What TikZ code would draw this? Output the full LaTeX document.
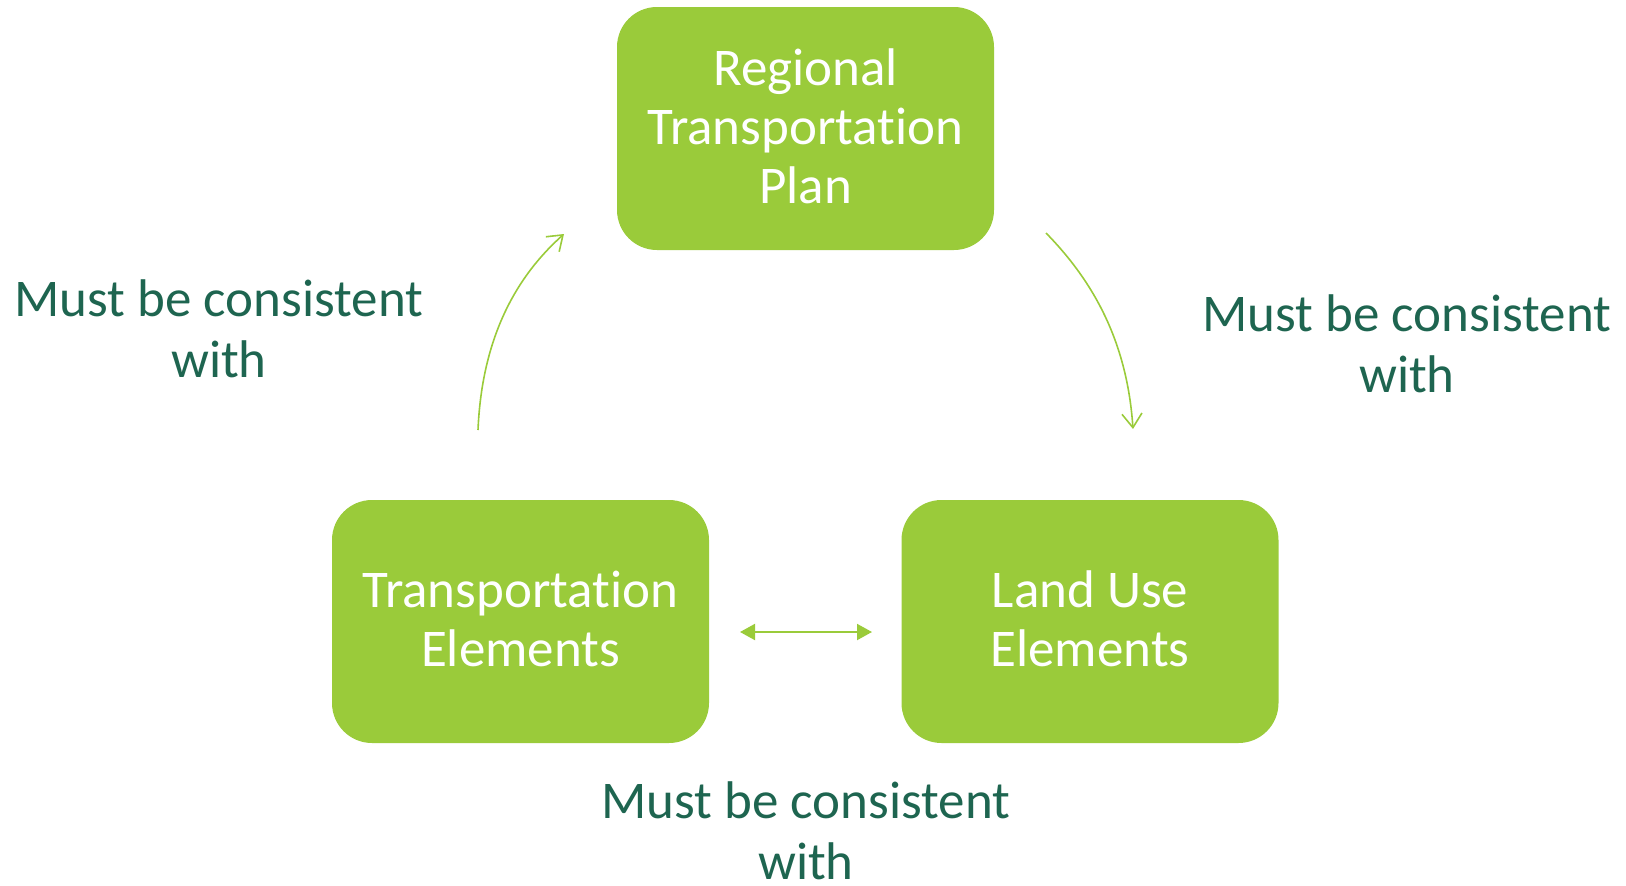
\documentclass[tikz,border=0pt]{standalone}
\usepackage{fontspec}
\setmainfont{Carlito}[Ligatures=NoCommon]
\usetikzlibrary{arrows.meta}
\definecolor{boxgreen}{HTML}{9ACB3A}
\definecolor{txtgreen}{HTML}{1E6550}
\newcommand{\lowpad}{\rule[-5pt]{0pt}{5pt}}
\tikzset{
  greenbox/.style={draw=none, fill=boxgreen, rounded corners=40pt, minimum width=377pt, minimum height=243pt, text=white, align=center, font=\fontsize{53}{59}\selectfont, inner sep=0pt},
  lbl/.style={text=txtgreen, align=center, font=\fontsize{53}{61}\selectfont, inner sep=0pt},
  curvearrow/.style={draw=boxgreen, line width=1.6pt, -{Straight Barb[length=14pt,width=20pt,line width=1.6pt]}},
  dblarrow/.style={draw=boxgreen, line width=2pt, {Triangle[length=15pt,width=16pt]}-{Triangle[length=15pt,width=16pt]}}
}
\begin{document}
\begin{tikzpicture}[x=1pt,y=-1pt]
\useasboundingbox (0,0) rectangle (1626,886);
\node[greenbox] (rtp) at (805.5,128.5) {Regional\\Transportation\\Plan\lowpad};
\node[greenbox] (te) at (520.5,621.5) {Transportation\\Elements\lowpad};
\node[greenbox] (lu) at (1090,621.5) {Land Use\\Elements\lowpad};
\node[lbl] (l1) at (219,329) {Must be consistent\\with};
\node[lbl] (l2) at (1407,344) {Must be consistent\\with};
\node[lbl] (l3) at (806,831) {Must be consistent\\with};
\coordinate (a1s) at (478,430);
\coordinate (a1e) at (564,234);
\coordinate (a2s) at (1046,233);
\coordinate (a2e) at (1133,429);
\coordinate (a3s) at (740,632);
\coordinate (a3e) at (872,632);
\draw[curvearrow] (a1s) .. controls (482,335) and (518,275) .. (a1e);
\draw[curvearrow] (a2s) .. controls (1092,280) and (1127,340) .. (a2e);
\draw[dblarrow] (a3s) -- (a3e);
\end{tikzpicture}
\end{document}
